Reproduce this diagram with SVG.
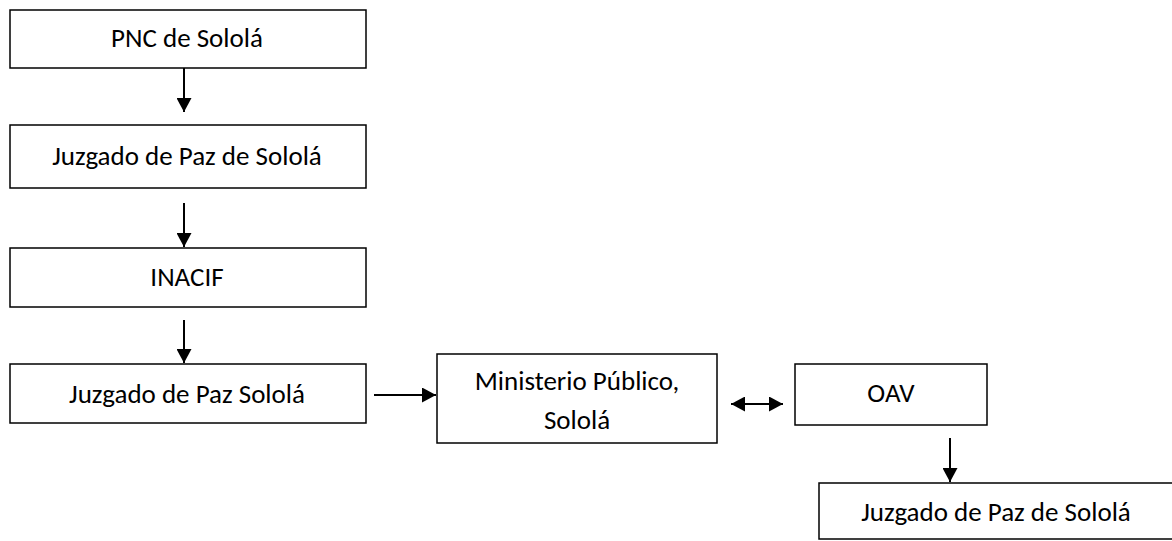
<svg xmlns="http://www.w3.org/2000/svg" width="1172" height="541" viewBox="0 0 1172 541">
<style>
.box{fill:#fff;stroke:#000;stroke-width:1.5}
.t{font-family:Carlito,Lato,"Liberation Sans",sans-serif;font-size:27px;fill:#000;text-anchor:middle}
.c{stroke:#000;stroke-width:2;fill:none}
</style>
<defs>
<marker id="ah" markerUnits="userSpaceOnUse" markerWidth="15" markerHeight="15" refX="14" refY="7.5" orient="auto-start-reverse">
<path d="M0,0 L14,7.5 L0,15 Z" fill="#000"/>
</marker>
</defs>
<rect width="1172" height="541" fill="#fff"/>
<g id="connectors">
<line class="c" x1="184" y1="68" x2="184" y2="112" marker-end="url(#ah)"/>
<line class="c" x1="184" y1="203" x2="184" y2="247" marker-end="url(#ah)"/>
<line class="c" x1="184" y1="320" x2="184" y2="363" marker-end="url(#ah)"/>
<line class="c" x1="374" y1="395" x2="436" y2="395" marker-end="url(#ah)"/>
<line class="c" x1="731" y1="404" x2="783" y2="404" marker-start="url(#ah)" marker-end="url(#ah)"/>
<line class="c" x1="950" y1="438" x2="950" y2="482" marker-end="url(#ah)"/>
</g>
<g id="n1"><rect class="box" x="10" y="10" width="356" height="58"/><text class="t" x="187" y="47">PNC de Sololá</text></g>
<g id="n2"><rect class="box" x="10" y="125" width="356" height="63"/><text class="t" x="187" y="165">Juzgado de Paz de Sololá</text></g>
<g id="n3"><rect class="box" x="10" y="248" width="356" height="59"/><text class="t" x="187" y="286">INACIF</text></g>
<g id="n4"><rect class="box" x="10" y="364" width="356" height="59"/><text class="t" x="187" y="403">Juzgado de Paz Sololá</text></g>
<g id="n5"><rect class="box" x="437" y="354" width="280" height="89"/><text class="t" x="577" y="390">Ministerio Público,</text><text class="t" x="577" y="429">Sololá</text></g>
<g id="n6"><rect class="box" x="795" y="364" width="192" height="61"/><text class="t" x="891" y="402">OAV</text></g>
<g id="n7"><rect class="box" x="819" y="483" width="370" height="56"/><text class="t" x="996" y="521">Juzgado de Paz de Sololá</text></g>
</svg>
